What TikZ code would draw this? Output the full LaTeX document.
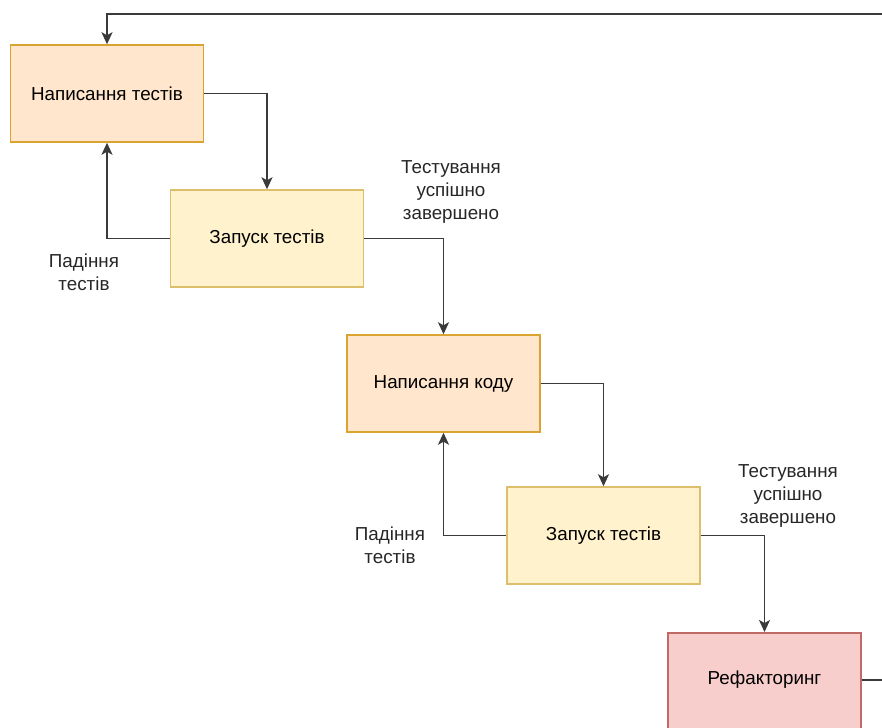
\documentclass[tikz,border=0pt]{standalone}
\usepackage{fontspec}
\setmainfont{Liberation Sans}
\usetikzlibrary{arrows.meta}
\definecolor{orgfill}{HTML}{FFE6CC}
\definecolor{orgline}{HTML}{D9A530}
\definecolor{yelfill}{HTML}{FFF2CC}
\definecolor{yelline}{HTML}{DDBE6A}
\definecolor{redfill}{HTML}{F8CECC}
\definecolor{redline}{HTML}{C06A66}
\definecolor{edge}{HTML}{3A3A3A}
\begin{document}
\begin{tikzpicture}[x=1pt,y=-1pt,
  font=\fontsize{18.8}{23}\selectfont,
  stepbox/.style={draw, line width=1.5pt, minimum width=193pt, minimum height=97pt, inner sep=0pt},
  writebox/.style={stepbox, fill=orgfill, draw=orgline},
  runbox/.style={stepbox, fill=yelfill, draw=yelline},
  refbox/.style={stepbox, fill=redfill, draw=redline},
  flow/.style={draw=edge, line width=1.6pt, -{Stealth[length=12pt,width=11pt,inset=3pt]}},
  plain/.style={draw=edge, line width=1.6pt},
  note/.style={align=center, text=black!85}]
\useasboundingbox (0,0) rectangle (882,727);
\clip (0,0) rectangle (882,727);

% process steps
\node[writebox] (wt) at (107,93.5) {Написання тестів};
\node[runbox]   (r1) at (267,238.5) {Запуск тестів};
\node[writebox] (wc) at (443.5,383.5) {Написання коду};
\node[runbox]   (r2) at (603.5,535.5) {Запуск тестів};
\node[refbox, anchor=north] (rf) at (764.5,632) {};
\node at (764.5,680) {Рефакторинг};

% loose ends at the picture border
\coordinate (back) at (882,14);
\coordinate (out) at (882,680);

% connectors
\draw[flow] (back) -| (wt.north);
\draw[flow] (wt.east) -| (r1.north);
\draw[flow] (r1.west) -| (wt.south);
\draw[flow] (r1.east) -| (wc.north);
\draw[flow] (wc.east) -| (r2.north);
\draw[flow] (r2.west) -| (wc.south);
\draw[flow] (r2.east) -| (rf.north);
\draw[plain] (rf.east |- out) -- (out);

% connector labels
\node[note] (f1) at (84,272) {Падіння\\тестів};
\node[note] (s1) at (451,192) {Тестування\\успішно\\завершено};
\node[note] (f2) at (390,545) {Падіння\\тестів};
\node[note] (s2) at (788,496) {Тестування\\успішно\\завершено};
\end{tikzpicture}
\end{document}
